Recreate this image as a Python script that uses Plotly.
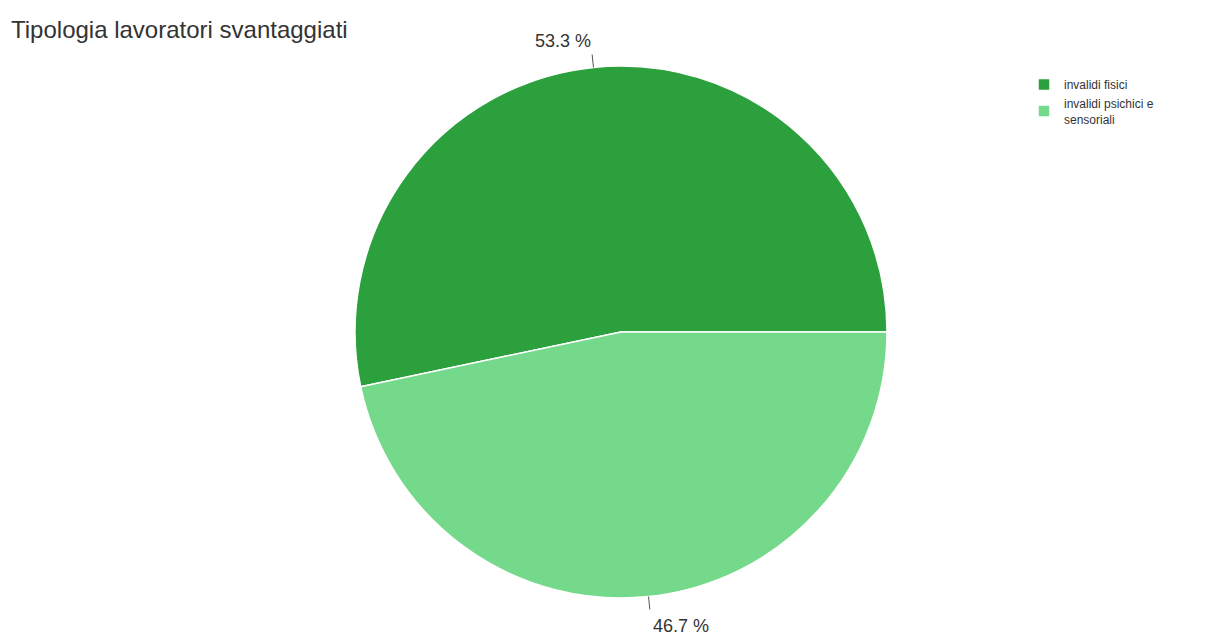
import math
import plotly.graph_objects as go

title = "Tipologia lavoratori svantaggiati"
labels = ["invalidi fisici", "invalidi psichici e<br>sensoriali"]
values = [53.3, 46.7]
colors = ["#2ba03d", "#74d98a"]

OFF = 8  # page body margin
W, H = 1225 - OFF, 638 - OFF
cx, cy, r = 621 - OFF, 332 - OFF, 266

total = sum(values)
# first slice runs counterclockwise from 3 o'clock; express as clockwise start
rotation = 90 - 360 * values[0] / total

fig = go.Figure(go.Pie(
    labels=labels, values=values, sort=False,
    direction="clockwise", rotation=rotation,
    marker=dict(colors=colors, line=dict(color="white", width=1.5)),
    textinfo="none", hoverinfo="label+percent",
    domain=dict(x=[(cx - r) / W, (cx + r) / W], y=[1 - (cy + r) / H, 1 - (cy - r) / H]),
))

start = 0.0
shapes, annotations = [], []
for v in values:
    frac = v / total
    mid = math.radians((start + frac / 2) * 360)
    start += frac
    x0, y0 = cx + r * math.cos(mid), cy - r * math.sin(mid)
    x1, y1 = cx + (r + 13) * math.cos(mid), cy - (r + 13) * math.sin(mid)
    shapes.append(dict(type="line", xref="paper", yref="paper",
                       x0=x0 / W, y0=1 - y0 / H, x1=x1 / W, y1=1 - y1 / H,
                       line=dict(color="#555", width=1)))
    top = math.sin(mid) > 0
    annotations.append(dict(
        x=(x1 + 1) / W, y=1 - (y1 + (-1 if top else 4)) / H,
        xref="paper", yref="paper", showarrow=False,
        xanchor="right" if top else "left", yanchor="bottom" if top else "top",
        text=f"{v:.1f} %", font=dict(size=18, color="#333"),
    ))

annotations.append(dict(x=1 / W, y=1 - 6 / H, xref="paper", yref="paper", showarrow=False,
                        xanchor="left", yanchor="top", text=title,
                        font=dict(size=24, color="#333")))

fig.update_layout(
    width=W, height=H, margin=dict(l=0, r=0, t=0, b=0),
    paper_bgcolor="white", plot_bgcolor="white",
    font=dict(family="Liberation Sans, Arial, sans-serif"),
    shapes=shapes, annotations=annotations,
    legend=dict(x=(1024 - OFF) / W, y=1 - (70 - OFF) / H, xanchor="left", yanchor="top",
                font=dict(size=12, color="#333"), itemwidth=30, tracegroupgap=0),
)

fig.write_html("out.html")
